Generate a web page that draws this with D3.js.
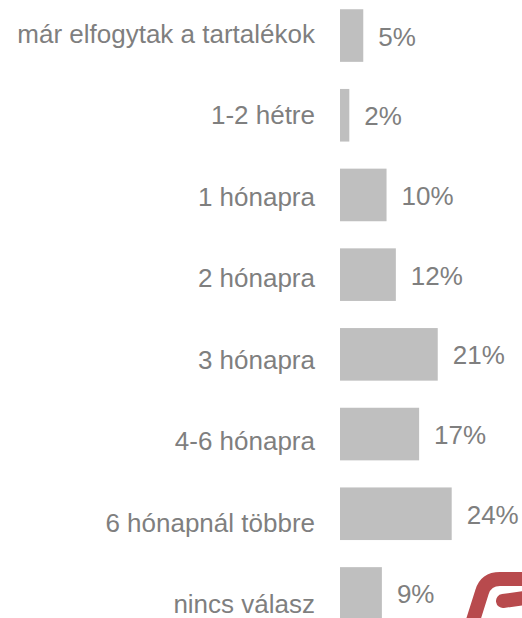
<!DOCTYPE html>
<html>
<head>
<meta charset="utf-8">
<script src="https://cdn.jsdelivr.net/npm/d3@7"></script>
<style>
    html, body { margin: 0; padding: 0; background: #fff; }
    svg { display: block; }
</style>
</head>
<body>
<script>
(function () {
    "use strict";

    // data
    var categories = [
        "már elfogytak a tartalékok",
        "1-2 hétre",
        "1 hónapra",
        "2 hónapra",
        "3 hónapra",
        "4-6 hónapra",
        "6 hónapnál többre",
        "nincs válasz"
    ];
    var values = [5, 2, 10, 12, 21, 17, 24, 9];
    var valueLabels = ["5%", "2%", "10%", "12%", "21%", "17%", "24%", "9%"];

    var width = 522, height = 618;

    var svg = d3.select("body").append("svg")
            .attr("width", width)
            .attr("height", height);

    // bars sit on their own band, the category texts drift a little lower
    var y = d3.scaleBand()
            .domain(categories)
            .range([-4.3, 633.3])
            .paddingInner(0.34)
            .paddingOuter(0.17);

    var yLabel = d3.scalePoint()
            .domain(categories)
            .range([42.5, 613]);

    var x = d3.scaleLinear()
            .domain([0, 24])
            .range([340, 451.7]);

    var rows = categories.map(function (c, i) {
        return {cat: c, value: values[i], label: valueLabels[i]};
    });

    svg.append("g").selectAll("rect")
            .data(rows)
            .join("rect")
            .attr("x", x(0))
            .attr("y", function (d) { return y(d.cat); })
            .attr("width", function (d) { return x(d.value) - x(0); })
            .attr("height", y.bandwidth())
            .attr("fill", "#bfbfbf");

    // category labels
    svg.append("g").selectAll("text")
            .data(rows)
            .join("text")
            .attr("x", 315)
            .attr("y", function (d) { return yLabel(d.cat); })
            .attr("text-anchor", "end")
            .attr("font-family", "'Liberation Sans', Arial, sans-serif")
            .attr("font-size", "26px")
            .attr("fill", "#7f7f7f")
            .text(function (d) { return d.cat; });

    // value labels
    svg.append("g").selectAll("text")
            .data(rows)
            .join("text")
            .attr("x", function (d) { return x(d.value) + 15; })
            .attr("y", function (d) { return y(d.cat) + y.bandwidth() / 2 + 10; })
            .attr("font-family", "'Liberation Sans', Arial, sans-serif")
            .attr("font-size", "26px")
            .attr("fill", "#7f7f7f")
            .text(function (d) { return d.label; });

    // corner of the red logo peeking in at the bottom right
    var logo = svg.append("g")
            .attr("fill", "none")
            .attr("stroke", "#b84a4d")
            .attr("stroke-width", 14)
            .attr("stroke-linecap", "round");

    logo.append("path")
            .attr("d", "M470,630 L482,592 Q486,579 500,579 L540,579");
    logo.append("path")
            .attr("d", "M503,601 L540,596");
})();
</script>
</body>
</html>
